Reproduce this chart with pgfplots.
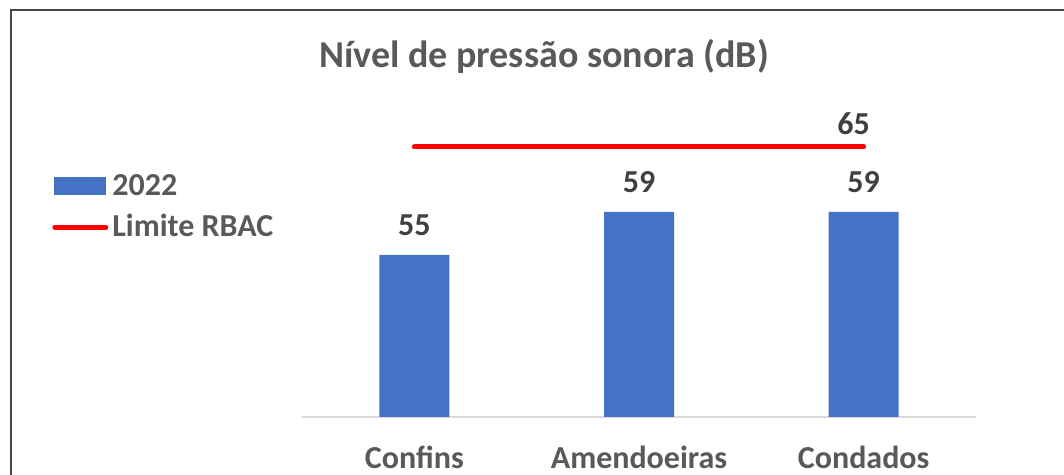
\documentclass[border=0pt]{standalone}
\usepackage{pgfplots}
\pgfplotsset{compat=1.18}
\usepackage{fontspec}
\setmainfont{Carlito}
\definecolor{barblue}{HTML}{4472C4}
\definecolor{textgray}{HTML}{595959}
\definecolor{labelgray}{HTML}{404040}
\definecolor{axisgray}{HTML}{D9D9D9}
\definecolor{bordergray}{HTML}{474747}
\definecolor{limred}{HTML}{FF0000}
\newcommand{\lblfont}{\bfseries\fontsize{16}{19}\selectfont}
\begin{document}
\begin{tikzpicture}
\path[use as bounding box] (0,0) rectangle (532pt,237.5pt);
\draw[bordergray, line width=1pt] (5.5pt,0) -- (5.5pt,232.5pt) -- (533pt,232.5pt);
\node[anchor=base, font=\bfseries\fontsize{19}{23}\selectfont, text=textgray] at (272pt,203.5pt) {Nível de pressão sonora (dB)};
\begin{axis}[
  at={(151pt,29pt)}, anchor=south west,
  scale only axis, width=337pt, height=162pt,
  xmin=-0.5, xmax=2.5, ymin=40, ymax=70,
  axis x line*=bottom, axis y line=none,
  x axis line style={draw=axisgray, line width=1pt, -},
  xtick={0,1,2}, xticklabels={Confins,Amendoeiras,Condados},
  ytick=\empty,
  major tick length=0pt,
  xticklabel style={font=\lblfont, text=textgray, anchor=base, yshift=-26pt},
  /pgf/number format/assume math mode=true,
  legend style={at={(-0.371,0.648)}, anchor=west, draw=none, fill=none,
    font=\lblfont, text=textgray, inner sep=0pt, row sep=4pt},
  legend cell align=left,
]
\addplot[ybar, bar width=35pt, bar shift=0pt, fill=barblue, draw=none,
  legend image code/.code={\fill[barblue] (0pt,-4.5pt) rectangle (26pt,4.5pt);},
  nodes near coords,
  every node near coord/.append style={font=\lblfont, text=labelgray, anchor=center, inner sep=0pt, yshift=15pt}]
  coordinates {(0,55) (1,59) (2,59)};
\addlegendentry{2022}
\addplot[limred, line width=2.5pt, line cap=round, sharp plot, mark=none,
  legend image code/.code={\draw[limred, line width=2.5pt, line cap=round] (0.25pt,0pt) -- (25.75pt,0pt);}]
  coordinates {(0,65) (2,65)};
\addlegendentry{Limite RBAC}
\addplot[draw=none, mark=none, forget plot, nodes near coords,
  every node near coord/.append style={font=\lblfont, text=labelgray, anchor=center, inner sep=0pt, yshift=11.5pt, xshift=-5pt}]
  coordinates {(2,65)};
\end{axis}
\end{tikzpicture}
\end{document}
